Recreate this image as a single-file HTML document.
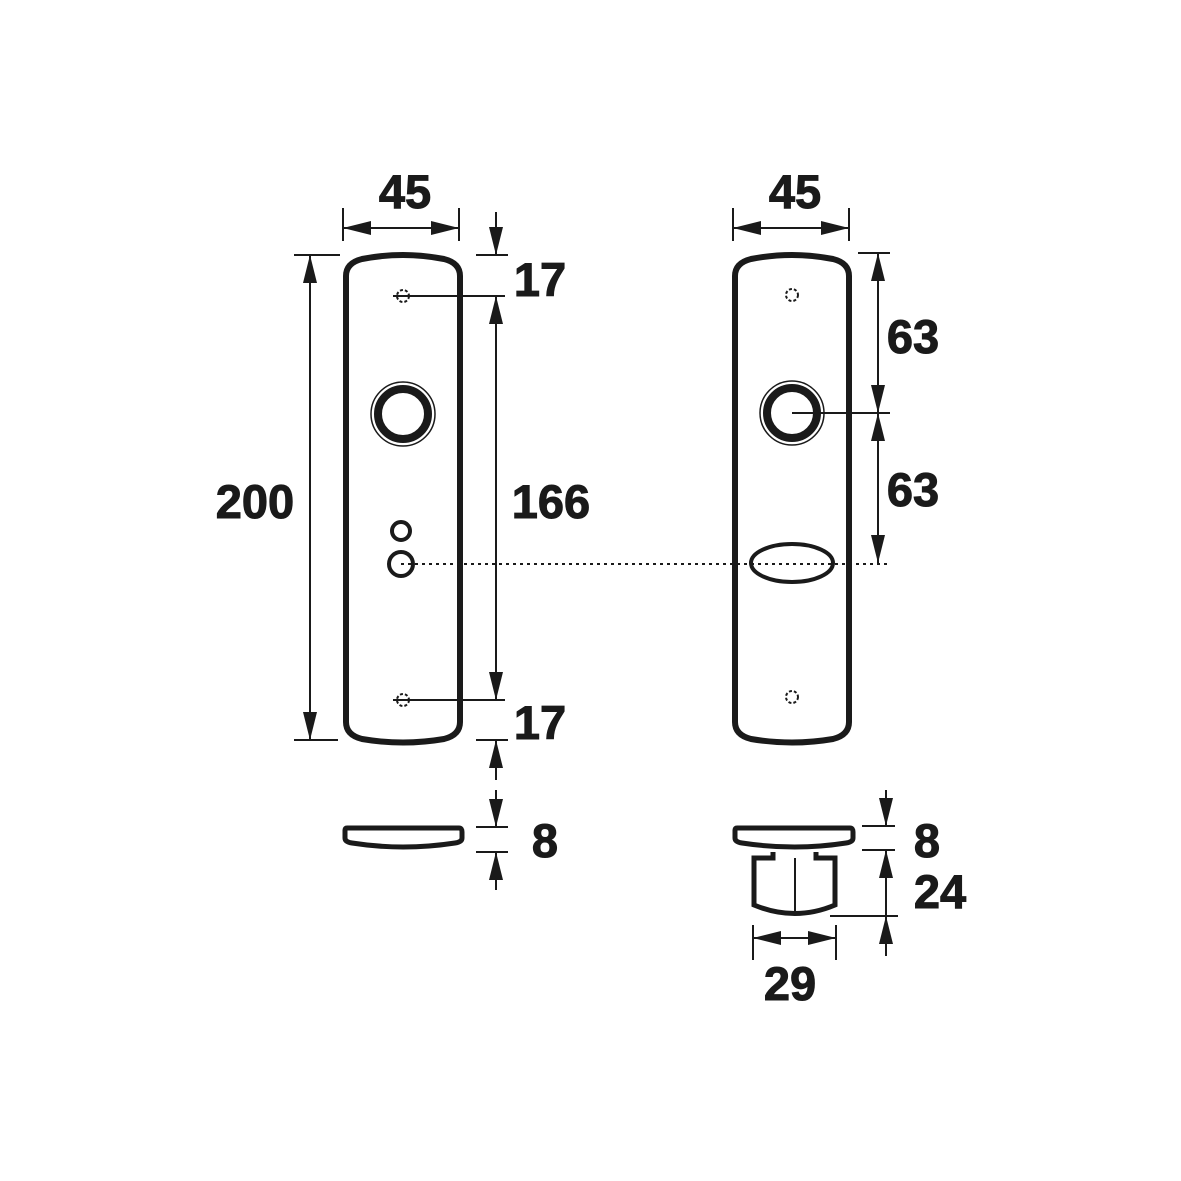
<!DOCTYPE html>
<html><head><style>html,body{margin:0;padding:0;background:#fff}svg{display:block}text{font-family:"Liberation Sans",sans-serif;font-weight:bold;fill:#1a1a1a;stroke:#1a1a1a;stroke-width:1}</style></head>
<body>
<svg width="1181" height="1181" viewBox="0 0 1181 1181" xmlns="http://www.w3.org/2000/svg">
<defs>
<marker id="a" markerUnits="userSpaceOnUse" markerWidth="30" markerHeight="16" refX="28" refY="7" orient="auto-start-reverse"><path d="M0,0 L28,7 L0,14 Z" fill="#1a1a1a"/></marker>
</defs>
<g stroke="#1a1a1a" fill="none">
<path d="M346,276 Q346,263 362,259 Q403,251 444,259 Q460,263 460,276 L460,722 Q460,735 444,739 Q403,746 362,739 Q346,735 346,722 Z" stroke-width="6"/>
<path d="M735,276 Q735,263 751,259 Q792,251 833,259 Q849,263 849,276 L849,722 Q849,735 833,739 Q792,746 751,739 Q735,735 735,722 Z" stroke-width="6"/>
<circle cx="403" cy="414" r="32" stroke-width="1.5"/><circle cx="403" cy="414" r="25" stroke-width="8"/>
<circle cx="792" cy="413" r="32" stroke-width="1.5"/><circle cx="792" cy="413" r="25" stroke-width="8"/>
<circle cx="401" cy="531" r="9" stroke-width="4"/><circle cx="401" cy="564" r="12" stroke-width="4"/>
<ellipse cx="792" cy="563" rx="41" ry="19" stroke-width="4"/>
<line x1="401" y1="564" x2="888" y2="564" stroke-width="2" stroke-dasharray="3,4"/>
<circle cx="403" cy="296" r="6" stroke-width="2" stroke-dasharray="3,2"/>
<circle cx="403" cy="700" r="6" stroke-width="2" stroke-dasharray="3,2"/>
<circle cx="792" cy="295" r="6" stroke-width="2" stroke-dasharray="3,2"/>
<circle cx="792" cy="697" r="6" stroke-width="2" stroke-dasharray="3,2"/>
<line x1="393" y1="296" x2="505" y2="296" stroke-width="2"/>
<line x1="393" y1="700" x2="505" y2="700" stroke-width="2"/>
<line x1="792" y1="413" x2="890" y2="413" stroke-width="2"/>
<g stroke-width="2">
<line x1="343" y1="208" x2="343" y2="241"/><line x1="459" y1="208" x2="459" y2="241"/>
<line x1="343" y1="228" x2="459" y2="228" marker-start="url(#a)" marker-end="url(#a)"/>
<line x1="733" y1="208" x2="733" y2="241"/><line x1="849" y1="208" x2="849" y2="241"/>
<line x1="733" y1="228" x2="849" y2="228" marker-start="url(#a)" marker-end="url(#a)"/>
<line x1="294" y1="255" x2="340" y2="255"/><line x1="294" y1="740" x2="338" y2="740"/>
<line x1="310" y1="255" x2="310" y2="740" marker-start="url(#a)" marker-end="url(#a)"/>
<line x1="476" y1="255" x2="508" y2="255"/><line x1="476" y1="740" x2="508" y2="740"/>
<line x1="496" y1="212" x2="496" y2="255" marker-end="url(#a)"/>
<line x1="496" y1="296" x2="496" y2="700" marker-start="url(#a)" marker-end="url(#a)"/>
<line x1="496" y1="780" x2="496" y2="740" marker-end="url(#a)"/>
<line x1="476" y1="827" x2="508" y2="827"/><line x1="476" y1="852" x2="508" y2="852"/>
<line x1="496" y1="790" x2="496" y2="827" marker-end="url(#a)"/>
<line x1="496" y1="890" x2="496" y2="852" marker-end="url(#a)"/>
<line x1="858" y1="253" x2="890" y2="253"/>
<line x1="878" y1="253" x2="878" y2="413" marker-start="url(#a)" marker-end="url(#a)"/>
<line x1="878" y1="413" x2="878" y2="563" marker-start="url(#a)" marker-end="url(#a)"/>
<line x1="862" y1="826" x2="895" y2="826"/><line x1="862" y1="850" x2="895" y2="850"/>
<line x1="830" y1="916" x2="898" y2="916"/>
<line x1="886" y1="790" x2="886" y2="826" marker-end="url(#a)"/>
<line x1="886" y1="850" x2="886" y2="916" marker-start="url(#a)"/>
<line x1="886" y1="956" x2="886" y2="916" marker-end="url(#a)"/>
<line x1="753" y1="925" x2="753" y2="960"/><line x1="836" y1="925" x2="836" y2="960"/>
<line x1="753" y1="938" x2="836" y2="938" marker-start="url(#a)" marker-end="url(#a)"/>
</g>
<path d="M347,828 L459,828 Q462,828 462,832 L462,838 Q462,842 455,843 Q403,851 352,843 Q345,842 345,838 L345,830 Q345,828 347,828 Z" stroke-width="5"/>
<path d="M737,828 L850,828 Q853,828 853,832 L853,838 Q853,842 846,843 Q795,851 742,843 Q735,842 735,838 L735,830 Q735,828 737,828 Z" stroke-width="5"/>
<path d="M773,852 L773,858 L754,858 L754,905 Q795,922 835,905 L835,858 L816,858 L816,852" stroke-width="5"/>
<line x1="795" y1="858" x2="795" y2="912" stroke-width="2"/>
</g>
<g font-size="47" text-anchor="middle">
<text x="405" y="208">45</text>
<text x="795" y="208">45</text>
<text x="255" y="518">200</text>
<text x="540" y="296">17</text>
<text x="551" y="518">166</text>
<text x="540" y="739">17</text>
<text x="545" y="857">8</text>
<text x="913" y="353">63</text>
<text x="913" y="506">63</text>
<text x="927" y="857">8</text>
<text x="940" y="908">24</text>
<text x="790" y="1000">29</text>
</g>
</svg>
</body></html>
